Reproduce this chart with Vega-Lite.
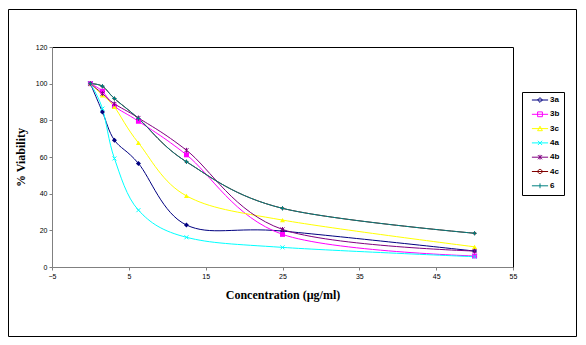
{
  "$schema": "https://vega.github.io/schema/vega-lite/v6.json",
  "width": 568,
  "height": 327,
  "autosize": {"type": "none"},
  "padding": {"left": 8, "top": 9, "right": 10, "bottom": 9},
  "background": "white",
  "data": {
    "values": [
      {"series": "3a", "conc": 0, "v": 100},
      {"series": "3a", "conc": 1.5625, "v": 84.6},
      {"series": "3a", "conc": 3.125, "v": 69.2},
      {"series": "3a", "conc": 6.25, "v": 56.5},
      {"series": "3a", "conc": 12.5, "v": 22.9},
      {"series": "3a", "conc": 25, "v": 19.6},
      {"series": "3a", "conc": 50, "v": 8.7},
      {"series": "3b", "conc": 0, "v": 100},
      {"series": "3b", "conc": 1.5625, "v": 95.9},
      {"series": "3b", "conc": 3.125, "v": 87.7},
      {"series": "3b", "conc": 6.25, "v": 79.5},
      {"series": "3b", "conc": 12.5, "v": 61.2},
      {"series": "3b", "conc": 25, "v": 17.8},
      {"series": "3b", "conc": 50, "v": 6},
      {"series": "3c", "conc": 0, "v": 100},
      {"series": "3c", "conc": 1.5625, "v": 93.7},
      {"series": "3c", "conc": 3.125, "v": 87.3},
      {"series": "3c", "conc": 6.25, "v": 67.7},
      {"series": "3c", "conc": 12.5, "v": 38.8},
      {"series": "3c", "conc": 25, "v": 25.6},
      {"series": "3c", "conc": 50, "v": 11},
      {"series": "4a", "conc": 0, "v": 100},
      {"series": "4a", "conc": 1.5625, "v": 86.4},
      {"series": "4a", "conc": 3.125, "v": 59.2},
      {"series": "4a", "conc": 6.25, "v": 31},
      {"series": "4a", "conc": 12.5, "v": 16.2},
      {"series": "4a", "conc": 25, "v": 10.7},
      {"series": "4a", "conc": 50, "v": 5.6},
      {"series": "4b", "conc": 0, "v": 100},
      {"series": "4b", "conc": 1.5625, "v": 94.6},
      {"series": "4b", "conc": 3.125, "v": 89},
      {"series": "4b", "conc": 6.25, "v": 81.3},
      {"series": "4b", "conc": 12.5, "v": 63.7},
      {"series": "4b", "conc": 25, "v": 20.5},
      {"series": "4b", "conc": 50, "v": 8.7},
      {"series": "4c", "conc": 0, "v": 100},
      {"series": "4c", "conc": 1.5625, "v": 98.6},
      {"series": "4c", "conc": 3.125, "v": 91.9},
      {"series": "4c", "conc": 6.25, "v": 81},
      {"series": "4c", "conc": 12.5, "v": 57.4},
      {"series": "4c", "conc": 25, "v": 32},
      {"series": "4c", "conc": 50, "v": 18.4},
      {"series": "6", "conc": 0, "v": 100},
      {"series": "6", "conc": 1.5625, "v": 98.6},
      {"series": "6", "conc": 3.125, "v": 91.9},
      {"series": "6", "conc": 6.25, "v": 81},
      {"series": "6", "conc": 12.5, "v": 57.4},
      {"series": "6", "conc": 25, "v": 32},
      {"series": "6", "conc": 50, "v": 18.4}
    ]
  },
  "layer": [
    {
      "transform": [{"filter": "datum.conc == 0"}],
      "mark": {"type": "point", "size": 36, "strokeWidth": 1, "filled": true, "opacity": 0},
      "encoding": {
        "x": {"field": "conc", "type": "quantitative", "axis": null},
        "y": {"field": "v", "type": "quantitative", "axis": null},
        "fill": {
          "field": "series", "type": "nominal",
          "scale": {"domain": ["3a", "3b", "3c", "4a", "4b", "4c", "6"], "range": ["#000080", "#FF00FF", "#FFFF00", "#00FFFF", "#800080", "#800000", "#008080"]},
          "legend": {"title": null, "orient": "none", "legendX": 514, "legendY": 83}
        },
        "stroke": {
          "field": "series", "type": "nominal",
          "scale": {"domain": ["3a", "3b", "3c", "4a", "4b", "4c", "6"], "range": ["#000080", "#FF00FF", "#FFFF00", "#00FFFF", "#800080", "#800000", "#008080"]},
          "legend": {"title": null, "orient": "none", "legendX": 514, "legendY": 83}
        },
        "shape": {
          "field": "series", "type": "nominal",
          "scale": {
            "domain": ["3a", "3b", "3c", "4a", "4b", "4c", "6"],
            "range": [
              "M-2.7,0H2.7M0,-0.8L0.8,0L0,0.8L-0.8,0Z",
              "M-2.7,0H2.7M-0.8,-0.8H0.8V0.8H-0.8Z",
              "M-2.7,0H2.7M0,-0.8L0.8,0.7H-0.8Z",
              "M-2.7,0H2.7M-0.7,-0.7L0.7,0.7M-0.7,0.7L0.7,-0.7",
              "M-2.7,0H2.7M-0.7,-0.7L0.7,0.7M-0.7,0.7L0.7,-0.7M0,-0.8V0.8",
              "M-2.7,0H2.7M-0.7,0A0.7,0.7 0 1,0 0.7,0A0.7,0.7 0 1,0 -0.7,0Z",
              "M-2.7,0H2.7M0,-0.8V0.8"
            ]
          },
          "legend": {"title": null, "orient": "none", "legendX": 514, "legendY": 83}
        }
      }
    },
    {
      "transform": [{"filter": "datum.series == '4c'"}],
      "mark": {"type": "point", "shape": "circle", "filled": true, "size": 9, "opacity": 1},
      "encoding": {
        "x": {"field": "conc", "type": "quantitative", "axis": null},
        "y": {"field": "v", "type": "quantitative", "axis": null},
        "color": {"field": "series", "type": "nominal", "legend": null}
      }
    },
    {
      "mark": {"type": "line", "interpolate": "cardinal", "strokeWidth": 1},
      "encoding": {
        "x": {
          "field": "conc", "type": "quantitative",
          "scale": {"domain": [-5, 55], "range": [44, 505], "nice": false, "zero": false},
          "axis": {
            "orient": "bottom", "offset": -69, "values": [-5, 5, 15, 25, 35, 45, 55],
            "title": "Concentration (µg/ml)", "titleFont": "Liberation Serif", "titleFontWeight": "bold",
            "titleFontSize": 12, "titleColor": "black", "titlePadding": 10
          }
        },
        "y": {
          "field": "v", "type": "quantitative",
          "scale": {"domain": [0, 120], "range": [258, 38], "nice": false, "zero": false},
          "axis": {
            "orient": "left", "offset": -44, "values": [0, 20, 40, 60, 80, 100, 120],
            "title": "% Viability", "titleFont": "Liberation Serif", "titleFontWeight": "bold",
            "titleFontSize": 12, "titleColor": "black", "titlePadding": 8
          }
        },
        "color": {
          "field": "series", "type": "nominal",
          "scale": {"domain": ["3a", "3b", "3c", "4a", "4b", "4c", "6"], "range": ["#000080", "#FF00FF", "#FFFF00", "#00FFFF", "#800080", "#800000", "#008080"]},
          "legend": null
        }
      }
    },
    {
      "transform": [{"filter": "datum.series == '3a'"}],
      "mark": {"type": "point", "shape": "diamond", "filled": true, "size": 25, "opacity": 1},
      "encoding": {
        "x": {"field": "conc", "type": "quantitative", "axis": null},
        "y": {"field": "v", "type": "quantitative", "axis": null},
        "color": {"field": "series", "type": "nominal", "legend": null}
      }
    },
    {
      "transform": [{"filter": "datum.series == '3b'"}],
      "mark": {"type": "point", "shape": "square", "filled": true, "size": 25, "opacity": 1},
      "encoding": {
        "x": {"field": "conc", "type": "quantitative", "axis": null},
        "y": {"field": "v", "type": "quantitative", "axis": null},
        "color": {"field": "series", "type": "nominal", "legend": null}
      }
    },
    {
      "transform": [{"filter": "datum.series == '3c'"}],
      "mark": {"type": "point", "shape": "triangle-up", "filled": true, "size": 25, "opacity": 1},
      "encoding": {
        "x": {"field": "conc", "type": "quantitative", "axis": null},
        "y": {"field": "v", "type": "quantitative", "axis": null},
        "color": {"field": "series", "type": "nominal", "legend": null}
      }
    },
    {
      "transform": [{"filter": "datum.series == '4a'"}],
      "mark": {"type": "point", "shape": "M-1,-1L1,1M-1,1L1,-1", "filled": false, "size": 16, "strokeWidth": 1, "opacity": 1},
      "encoding": {
        "x": {"field": "conc", "type": "quantitative", "axis": null},
        "y": {"field": "v", "type": "quantitative", "axis": null},
        "color": {"field": "series", "type": "nominal", "legend": null}
      }
    },
    {
      "transform": [{"filter": "datum.series == '4b'"}],
      "mark": {"type": "point", "shape": "M-1,-1L1,1M-1,1L1,-1M0,-1.2V1.2", "filled": false, "size": 16, "strokeWidth": 1, "opacity": 1},
      "encoding": {
        "x": {"field": "conc", "type": "quantitative", "axis": null},
        "y": {"field": "v", "type": "quantitative", "axis": null},
        "color": {"field": "series", "type": "nominal", "legend": null}
      }
    },
    {
      "transform": [{"filter": "datum.series == '6'"}],
      "mark": {"type": "point", "shape": "M-1,0H1M0,-1V1", "filled": false, "size": 20, "strokeWidth": 1, "opacity": 1},
      "encoding": {
        "x": {"field": "conc", "type": "quantitative", "axis": null},
        "y": {"field": "v", "type": "quantitative", "axis": null},
        "color": {"field": "series", "type": "nominal", "legend": null}
      }
    },
    {
      "transform": [{"filter": "datum.conc == 0"}],
      "mark": {"type": "line", "strokeWidth": 0, "opacity": 0},
      "encoding": {
        "x": {
          "field": "conc", "type": "quantitative",
          "axis": {"orient": "top", "offset": -38, "domainColor": "black", "ticks": false, "labels": false, "title": null}
        },
        "y": {
          "field": "v", "type": "quantitative",
          "axis": {"orient": "right", "offset": -63, "domainColor": "black", "ticks": false, "labels": false, "title": null}
        }
      }
    }
  ],
  "resolve": {"axis": {"x": "independent", "y": "independent"}},
  "config": {
    "view": {"stroke": "black", "strokeWidth": 1},
    "axis": {
      "grid": false,
      "labelFont": "Liberation Sans",
      "labelFontSize": 7,
      "labelColor": "black",
      "labelFlush": false,
      "labelOverlap": false,
      "labelPadding": 2,
      "tickSize": 3,
      "tickColor": "#808080",
      "domainColor": "#808080",
      "domainWidth": 1
    },
    "legend": {
      "strokeColor": "black",
      "fillColor": "white",
      "padding": 4,
      "symbolSize": 36,
      "symbolStrokeWidth": 1,
      "symbolOffset": 10,
      "labelOffset": 6,
      "labelFont": "Liberation Sans",
      "labelFontSize": 8,
      "labelFontWeight": "bold",
      "labelColor": "black",
      "rowPadding": 4.3
    }
  }
}
